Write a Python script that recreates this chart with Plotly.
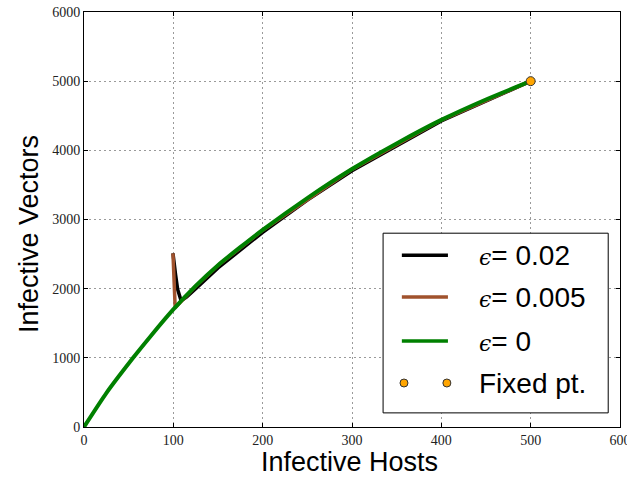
import plotly.graph_objects as go

# ---- data ----
green_x = [0, 25, 55, 75, 100, 125, 150, 175, 200, 250, 300, 350, 400, 450, 500]
green_y = [0, 490, 1000, 1320, 1700, 2040, 2340, 2600, 2850, 3310, 3730, 4100, 4440, 4735, 5000]

black_x = [99.6, 100.8, 102.5, 104.8, 107, 108.5, 111, 115, 125, 150, 200, 250, 300, 400, 500]
black_y = [2510, 2350, 2200, 1990, 1870, 1836, 1845, 1880, 2000, 2300, 2815, 3280, 3705, 4425, 5000]

brown_x = [99.6, 100.2, 100.9, 101.5, 102, 103, 110, 125, 150, 200, 300, 400, 500]
brown_y = [2510, 2300, 2050, 1860, 1745, 1735, 1836, 2035, 2335, 2845, 3725, 4438, 5000]

fixed_x = [500]
fixed_y = [5000]

x_ticks = [0, 100, 200, 300, 400, 500, 600]
y_ticks = [0, 1000, 2000, 3000, 4000, 5000, 6000]

x_title = "Infective Hosts"
y_title = "Infective Vectors"
eps_values = ["0.02", "0.005", "0"]
fixed_label = "Fixed pt."

BLACK = "#000000"
BROWN = "#A0522D"
GREEN = "#008000"
ORANGE = "#FFA500"

fig = go.Figure()
fig.add_trace(go.Scatter(x=black_x, y=black_y, mode="lines",
                         line=dict(color=BLACK, width=3.5), showlegend=False))
fig.add_trace(go.Scatter(x=brown_x, y=brown_y, mode="lines",
                         line=dict(color=BROWN, width=3.5), showlegend=False))
fig.add_trace(go.Scatter(x=green_x, y=green_y, mode="lines",
                         line=dict(color=GREEN, width=4, shape="spline", smoothing=0.6),
                         showlegend=False))
fig.add_trace(go.Scatter(x=fixed_x, y=fixed_y, mode="markers",
                         marker=dict(color=ORANGE, size=9, line=dict(color="#333333", width=1)),
                         showlegend=False))

tickfont = dict(family="Liberation Serif", size=14, color="#222222")
titlefont = dict(family="Liberation Sans", size=27, color="#000000")

axis_common = dict(
    showline=True, linecolor="#000000", linewidth=1, mirror="allticks",
    ticks="inside", ticklen=4, tickcolor="#000000", tickwidth=1,
    showgrid=True, gridcolor="#9a9a9a", gridwidth=1, griddash="2px,3px",
    zeroline=False, tickfont=tickfont, automargin=False,
    ticklabeloverflow="allow",
)

fig.update_xaxes(range=[0, 600], tickvals=x_ticks, ticktext=[str(v) for v in x_ticks],
                 **axis_common)
fig.update_yaxes(range=[0, 6000], tickvals=y_ticks, ticktext=[str(v) for v in y_ticks],
                 **axis_common)

# axis titles as annotations
fig.add_annotation(xref="paper", yref="paper", x=0.495, y=0, yshift=-35, text=x_title,
                   showarrow=False, xanchor="center", yanchor="middle", font=titlefont)
fig.add_annotation(xref="paper", yref="paper", x=0, xshift=-55, y=0.465, text=y_title,
                   showarrow=False, xanchor="center", yanchor="middle", textangle=-90,
                   font=titlefont)

# ---- custom legend (paper coordinates) ----
bx0, bx1, by0, by1 = 0.558, 0.978, 0.034, 0.467
fig.add_shape(type="rect", xref="paper", yref="paper", x0=bx0, x1=bx1, y0=by0, y1=by1,
              line=dict(color="#000000", width=1), fillcolor="white", layer="above")
rows_y = [0.414, 0.313, 0.207, 0.106]
colors = [BLACK, BROWN, GREEN]
for yy, c in zip(rows_y[:3], colors):
    fig.add_shape(type="line", xref="paper", yref="paper", x0=0.593, x1=0.679, y0=yy, y1=yy,
                  line=dict(color=c, width=3.5), layer="above")
for xx in [0.597, 0.677]:
    fig.add_shape(type="circle", xref="paper", yref="paper", xsizemode="pixel", ysizemode="pixel",
                  xanchor=xx, yanchor=rows_y[3], x0=-4, x1=4, y0=-4, y1=4,
                  fillcolor=ORANGE, line=dict(color="#333333", width=1), layer="above")
labels = ["<span style='font-family:DejaVu Serif;font-size:22px;font-style:italic'>ϵ</span>= " + v
          for v in eps_values] + [fixed_label]
for yy, lab in zip(rows_y, labels):
    fig.add_annotation(xref="paper", yref="paper", x=0.733, y=yy, text=lab, showarrow=False,
                       xanchor="left", yanchor="middle",
                       font=dict(family="Liberation Sans", size=28, color="#000000"))

fig.update_layout(
    width=627, height=481,
    margin=dict(l=84, r=7, t=12, b=54),
    plot_bgcolor="white", paper_bgcolor="white",
    showlegend=False,
)

fig.write_html("out.html", config={"displayModeBar": False},
               post_script="document.body.style.margin='0';document.body.style.padding='0';")
